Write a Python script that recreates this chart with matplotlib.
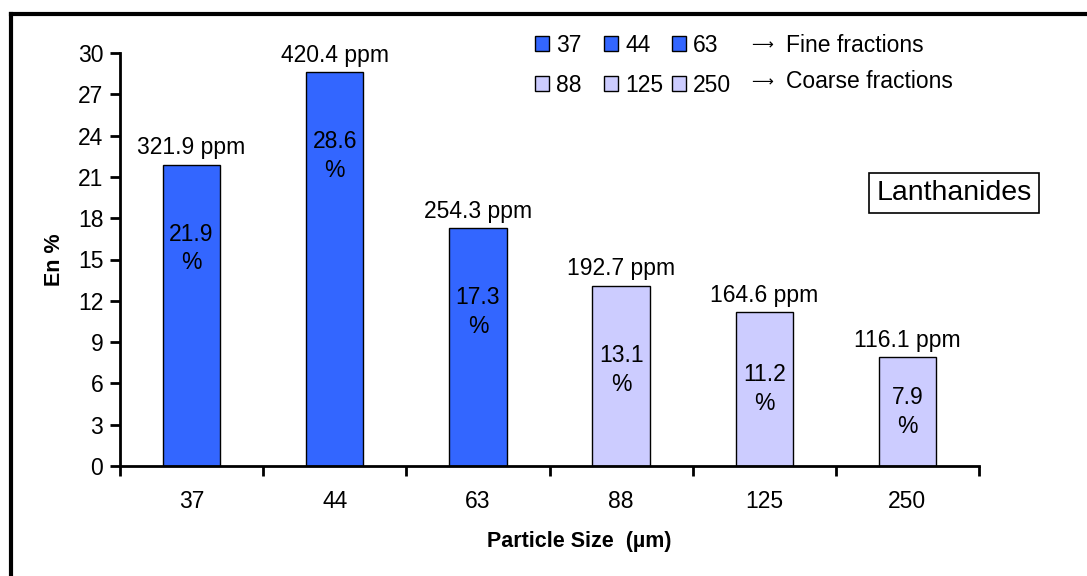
import matplotlib
matplotlib.use('Agg')
import matplotlib.pyplot as plt
from matplotlib.lines import Line2D
from matplotlib.legend import Legend
import numpy as np

sizes = ['37', '44', '63', '88', '125', '250']
en_pct = [21.9, 28.6, 17.3, 13.1, 11.2, 7.9]
ppm = [321.9, 420.4, 254.3, 192.7, 164.6, 116.1]
fraction = ['fine', 'fine', 'fine', 'coarse', 'coarse', 'coarse']
colors = {'fine': '#3366FF', 'coarse': '#CCCCFF'}

plt.rcParams['font.family'] = ['Liberation Sans', 'DejaVu Sans']
fs = 16.5

fig = plt.figure(figsize=(10.87, 5.76), dpi=100)
ax = fig.add_axes([120/1087., 1-466/576., (979-120)/1087., (466-53)/576.])

x = np.arange(len(sizes))
bars = ax.bar(x, en_pct, width=0.4, color=[colors[f] for f in fraction],
              edgecolor='black', linewidth=1)

for xi, v, p in zip(x, en_pct, ppm):
    ax.annotate('%.1f ppm' % p, (xi, v), xytext=(0, 12), textcoords='offset points',
                ha='center', va='center', fontsize=fs)
    yc = max(v - 6.1, v / 2.)
    ax.text(xi, yc, '%.1f\n%%' % v, ha='center', va='center', fontsize=fs,
            linespacing=1.33)

ax.set_xlim(-0.5, len(sizes) - 0.5)
ax.set_ylim(0, 30)
ax.set_yticks(np.arange(0, 31, 3))
ax.set_xticks(np.arange(-0.5, len(sizes), 1.0))
ax.set_xticklabels([])
ax.set_xticks(x, minor=True)
ax.set_xticklabels(sizes, minor=True)
ax.tick_params(axis='x', which='minor', length=0, pad=17, labelsize=fs)
ax.tick_params(axis='x', which='major', direction='out', length=7, width=2)
ax.tick_params(axis='y', direction='out', length=7, width=2, labelsize=fs, pad=5)
for s in ['top', 'right']:
    ax.spines[s].set_visible(False)
for s in ['left', 'bottom']:
    ax.spines[s].set_linewidth(2)

ax.set_ylabel('En %', fontsize=15.5, fontweight='bold', labelpad=9)
ax.set_xlabel('Particle Size  (µm)', fontsize=15.5, fontweight='bold')
ax.xaxis.set_label_coords(0.535, -0.158)

# legend: one small legend per column so the columns sit where they do in the original
col_x = [(535-120)/859., (604-120)/859., (672-120)/859.]
for j in range(3):
    lg = Legend(ax, [bars[j], bars[j+3]], [sizes[j], sizes[j+3]],
                loc='upper left', bbox_to_anchor=(col_x[j], 1.047), frameon=False,
                fontsize=fs, handlelength=0.62, handleheight=0.62,
                handletextpad=0.3, labelspacing=0.75, borderpad=0,
                borderaxespad=0)
    ax.add_artist(lg)
ax.text(0.735, 1.019, '\u27f6', transform=ax.transAxes, fontsize=11,
        va='center', ha='left', family='DejaVu Sans')
ax.text(0.775, 1.019, 'Fine fractions', transform=ax.transAxes, fontsize=fs,
        va='center', ha='left')
ax.text(0.735, 0.930, '\u27f6', transform=ax.transAxes, fontsize=11,
        va='center', ha='left', family='DejaVu Sans')
ax.text(0.775, 0.930, 'Coarse fractions', transform=ax.transAxes, fontsize=fs,
        va='center', ha='left')

ax.text(0.971, 0.661, 'Lanthanides', transform=ax.transAxes, fontsize=20.5,
        ha='center', va='center',
        bbox=dict(boxstyle='square,pad=0.25', fc='white', ec='black', lw=1.2))

# outer frame (only top and left visible)
fig.add_artist(Line2D([11/1087., 11/1087.], [0, 1-14/576.], color='black', lw=3,
                      transform=fig.transFigure))
fig.add_artist(Line2D([11/1087., 1], [1-14/576., 1-14/576.], color='black', lw=3,
                      transform=fig.transFigure))

plt.savefig('out.png', dpi=100)
plt.close()
